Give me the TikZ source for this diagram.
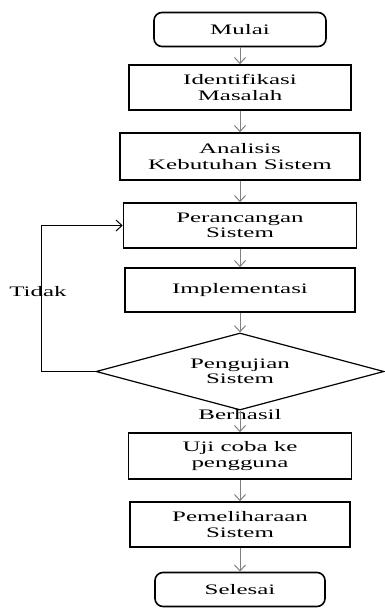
\documentclass[tikz,border=0pt]{standalone}
\usepackage{fontspec}
\newfontfamily\chartfont[FakeStretch=1.72]{Liberation Serif}
\usetikzlibrary{shapes.geometric, arrows.meta, positioning}
\tikzset{
  % Flowchart styles
  chartfont/.style={font=\chartfont\fontsize{14.5}{15.5}\selectfont},
  terminal/.style={rectangle, rounded corners=8pt, minimum width=#1, minimum height=34pt, inner sep=0pt, text centered, draw=black, line width=1.6pt, chartfont},
  terminal/.default={172pt},
  process/.style={rectangle, minimum width=#1, minimum height=45pt, inner sep=0pt, align=center, draw=black, line width=1.6pt, chartfont},
  process/.default={222pt},
  decision/.style={diamond, aspect=3.74, minimum width=288pt, minimum height=77pt, inner sep=0pt, align=center, draw=black, line width=1.2pt, chartfont},
  arrow/.style={-{Straight Barb[length=6pt, width=11pt]}, draw=gray, line width=1pt},
  loopline/.style={-{Straight Barb[length=6pt, width=11pt]}, draw=black, line width=1pt},
}

\begin{document}
\begin{tikzpicture}[x=1pt, y=-1pt]
    \useasboundingbox (0,0) rectangle (385,608);
    % Centre line of the chart
    \def\xc{240}
    % Steps
    \node[terminal=172pt] (mulai) at (\xc,29.5) {Mulai};
    \node[process=222pt] (ident) at (\xc,87.5) {Identifikasi\\Masalah};
    \node[process=240pt, minimum height=47pt] (analisis) at (\xc,156.5) {Analisis\\Kebutuhan Sistem};
    \node[process=233pt] (rancang) at (\xc,225.5) {Perancangan\\Sistem};
    \node[process=230pt, minimum height=44pt] (impl) at (\xc,290) {Implementasi};
    \node[decision] (uji) at (\xc,371.5) {Pengujian\\Sistem};
    \node[chartfont] (berhasil) at (\xc,415) {Berhasil};
    \node[process=223pt, minimum height=46pt] (coba) at (\xc,456) {Uji coba ke\\pengguna};
    \node[process=220pt] (pelihara) at (\xc,524.5) {Pemeliharaan\\Sistem};
    \node[terminal=170pt] (selesai) at (\xc,589.5) {Selesai};
    % Flow
    \draw[arrow] (mulai) -- (ident);
    \draw[arrow] (ident) -- (analisis);
    \draw[arrow] (analisis) -- (rancang);
    \draw[arrow] (rancang) -- (impl);
    \draw[arrow] (impl) -- (uji);
    \draw[arrow] (uji) -- (coba);
    \draw[arrow] (coba) -- (pelihara);
    \draw[arrow] (pelihara) -- (selesai);
    % Back to design when the test fails
    \draw[loopline] (uji.west) -- ++(-54,0) |- (rancang.west);
    \node[chartfont] (tidak) at (38,292) {Tidak};
\end{tikzpicture}
\end{document}
